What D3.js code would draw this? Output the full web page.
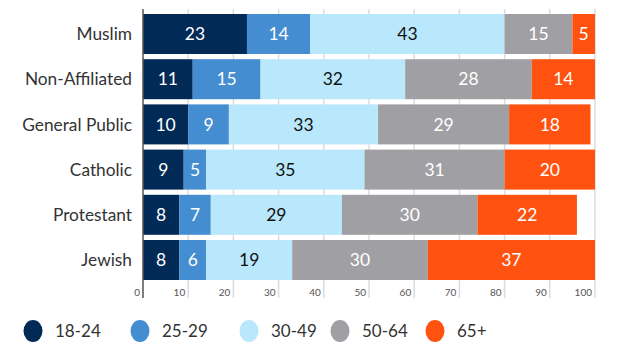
<!DOCTYPE html>
<html><head><meta charset="utf-8">
<script src="https://cdn.jsdelivr.net/npm/d3@7/dist/d3.min.js"></script>
<style>body{margin:0;background:#fff;}svg{display:block;font-family:Lato,"Open Sans",sans-serif;}</style>
</head><body>
<svg id="c" width="630" height="355"></svg>
<script>
const categories = ["Muslim","Non-Affiliated","General Public","Catholic","Protestant","Jewish"];
const seriesNames = ["18-24","25-29","30-49","50-64","65+"];
const s1824 = [23,11,10,9,8,8];
const s2529 = [14,15,9,5,7,6];
const s3049 = [43,32,33,35,29,19];
const s5064 = [15,28,29,31,30,30];
const s65 = [5,14,18,20,22,37];
const tickValues = [0,10,20,30,40,50,60,70,80,90,100];
const colors = ["#022a56","#448dd0","#b9e7fb","#a0a0a4","#ff5210"];
const textColors = ["#fff","#fff","#111","#fff","#fff"];

const series = [s1824,s2529,s3049,s5064,s65];
const svg = d3.select("#c");
const x = d3.scaleLinear().domain([0,100]).range([143,595]);
const y = d3.scaleBand().domain(categories).range([8.8,285.2]).paddingInner(0.115).paddingOuter(0.115);

// gridlines
svg.append("g").selectAll("line").data(tickValues.slice(1)).join("line")
  .attr("x1",d=>x(d)).attr("x2",d=>x(d)).attr("y1",9).attr("y2",298)
  .attr("stroke","#dcdcdc").attr("stroke-width",1.5);

// stacked bars
const rows = categories.map((c,i)=>{ let acc=0; return series.map((s,k)=>{ const v=s[i]; const r={cat:c,k,v,x0:acc,x1:acc+v}; acc+=v; return r;}); });
const g = svg.append("g");
rows.forEach(r=>{
  g.selectAll(null).data(r).join("rect")
    .attr("x",d=>x(d.x0)).attr("width",d=>x(d.x1)-x(d.x0))
    .attr("y",d=>y(d.cat)).attr("height",y.bandwidth())
    .attr("fill",d=>colors[d.k]);
  g.selectAll(null).data(r).join("text")
    .attr("x",d=>(x(d.x0)+x(d.x1))/2).attr("y",d=>y(d.cat)+y.bandwidth()/2)
    .attr("dy","0.36em").attr("text-anchor","middle")
    .attr("font-size",17.5).attr("fill",d=>textColors[d.k])
    .text(d=>d.v);
});

// axis line
svg.append("line").attr("x1",x(0)).attr("x2",x(0)).attr("y1",9).attr("y2",298)
  .attr("stroke","#555").attr("stroke-width",1.5);

// category labels
svg.append("g").selectAll("text").data(categories).join("text")
  .attr("x",132).attr("y",d=>y(d)+y.bandwidth()/2).attr("dy","0.36em")
  .attr("text-anchor","end").attr("font-size",17.3).attr("fill","#333").text(d=>d);

// tick labels
svg.append("g").selectAll("text").data(tickValues).join("text")
  .attr("x",d=>x(d)-3).attr("y",292).attr("dy","0.36em")
  .attr("text-anchor","end").attr("font-size",10).attr("fill","#555").text(d=>d);

// legend
const lx = [33,140,249,340,435];
const lg = svg.append("g").selectAll("g").data(seriesNames).join("g")
  .attr("transform",(d,i)=>`translate(${lx[i]},331)`);
lg.append("ellipse").attr("rx",9.5).attr("ry",11).attr("fill",(d,i)=>colors[i]);
lg.append("text").attr("x",22).attr("dy","0.36em").attr("font-size",17).attr("fill","#333").text(d=>d);
</script>
</body></html>
